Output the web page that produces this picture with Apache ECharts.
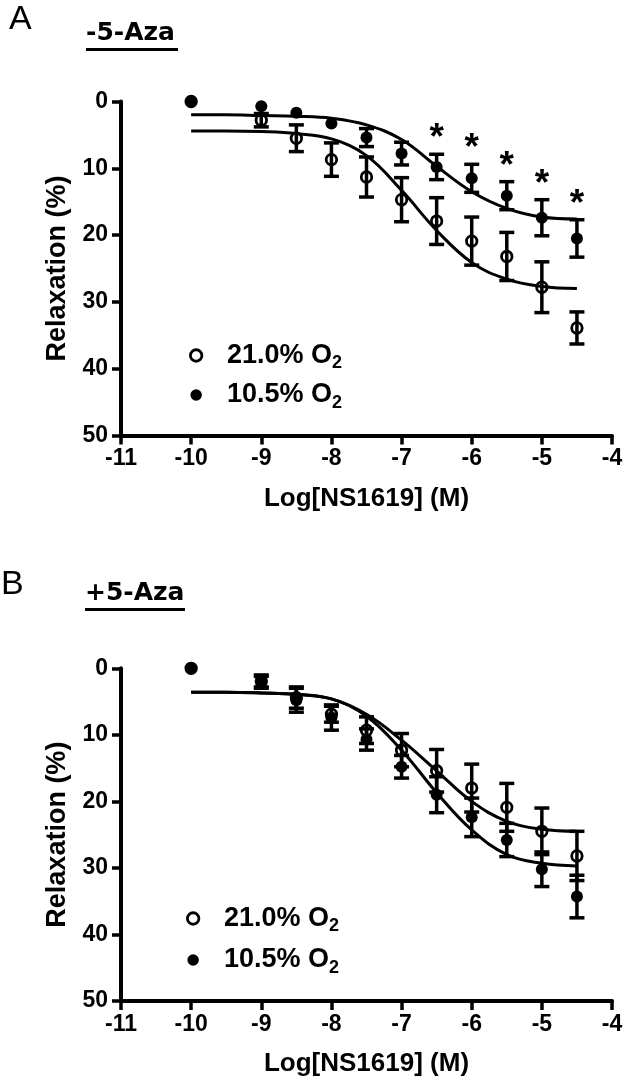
<!DOCTYPE html>
<html><head><meta charset="utf-8">
<script src="https://cdn.jsdelivr.net/npm/echarts@6/dist/echarts.min.js"></script>
<style>html,body{margin:0;padding:0;background:#fff}#c{width:630px;height:1082px}</style>
</head><body><div id="c"></div>
<script>
// ---- data ----
const logConc = [-10, -9, -8.5, -8, -7.5, -7, -6.5, -6, -5.5, -5, -4.5];
const xTicks = [-11, -10, -9, -8, -7, -6, -5, -4];
const yTicks = [0, 10, 20, 30, 40, 50];
const seriesNames = ['21.0% O2', '10.5% O2'];

// Panel A (-5-Aza)
const aOpenMean   = [0, 2.8, 5.5, 8.7, 11.3, 14.7, 17.9, 20.9, 23.2, 27.8, 33.9];
const aOpenErr    = [0, 1.0, 2.0, 2.5, 3.0, 3.3, 3.5, 3.6, 3.6, 3.8, 2.4];
const aFilledMean = [0, 0.7, 1.7, 3.3, 5.4, 7.8, 9.8, 11.5, 14.1, 17.4, 20.5];
const aFilledErr  = [0, 0, 0, 0, 1.35, 1.7, 1.9, 2.1, 2.1, 2.7, 2.8];
const aStarX      = [-6.5, -6, -5.5, -5, -4.5];

// Panel B (+5-Aza)
const bOpenMean   = [0, 1.9, 4.4, 6.9, 9.3, 12.3, 15.4, 18.0, 20.9, 24.5, 28.2];
const bOpenErr    = [0, 0.9, 1.6, 1.2, 2.0, 2.5, 3.2, 3.6, 3.6, 3.5, 3.7];
const bFilledMean = [0, 2.1, 4.8, 7.4, 10.7, 14.8, 19.0, 22.4, 25.8, 30.2, 34.3];
const bFilledErr  = [0, 0.9, 1.8, 1.9, 1.6, 1.7, 2.7, 2.9, 2.5, 2.6, 3.2];

// fitted curves
const curveX       = [-10, -9.5, -9, -8.5, -8, -7.5, -7, -6.5, -6, -5.5, -5, -4.5];
const aCurveOpen   = [4.4, 4.4, 4.5, 4.8, 5.6, 8.1, 13.3, 19.3, 24.1, 26.6, 27.7, 28.0];
const aCurveFilled = [2.0, 2.0, 2.1, 2.2, 2.5, 3.5, 5.7, 9.7, 13.5, 16.0, 17.3, 17.6];
const bCurveOpen   = [3.6, 3.6, 3.7, 3.9, 4.6, 6.9, 10.8, 15.4, 20.0, 23.0, 24.2, 24.5];
const bCurveFilled = [3.6, 3.6, 3.7, 3.9, 4.6, 7.2, 12.3, 18.7, 24.3, 28.0, 29.3, 29.7];

// ---- styling ----
const FONT = '"Liberation Sans", Arial, Helvetica, sans-serif';
const LW = 3.5;
const openStyle = {color: 'rgba(255,255,255,0)', borderColor: '#000', borderWidth: 2.8, opacity: 1};
const filledStyle = {color: '#000', borderWidth: 0, opacity: 1};

function zip(xs, ys) { return xs.map((x, i) => [x, ys[i]]); }

function scatter(name, idx, mean, open) {
  return {
    name, type: 'scatter', xAxisIndex: idx, yAxisIndex: idx,
    data: zip(logConc, mean), symbol: 'circle',
    symbolSize: open ? 10.5 : 12,
    itemStyle: open ? openStyle : filledStyle,
    z: open ? 3 : 4, silent: true
  };
}
function curve(idx, ys) {
  return {
    type: 'line', xAxisIndex: idx, yAxisIndex: idx, data: zip(curveX, ys),
    smooth: 0.4, showSymbol: false, symbol: 'none',
    lineStyle: {color: '#000', width: 3, opacity: 1}, z: 2, silent: true
  };
}
function errBars(idx, mean, err) {
  return {
    type: 'custom', xAxisIndex: idx, yAxisIndex: idx, silent: true, z: 5,
    data: logConc.map((x, i) => [x, mean[i], err[i]]),
    encode: {x: 0, y: 1},
    renderItem: (params, api) => {
      const x = api.value(0), m = api.value(1), e = api.value(2);
      if (!e) return {type: 'group', children: []};
      const t = api.coord([x, m - e]), b = api.coord([x, m + e]);
      const hw = 7.5, st = {stroke: '#000', lineWidth: LW};
      return {type: 'group', children: [
        {type: 'line', shape: {x1: t[0], y1: t[1], x2: b[0], y2: b[1]}, style: st},
        {type: 'line', shape: {x1: t[0] - hw, y1: t[1], x2: t[0] + hw, y2: t[1]}, style: st},
        {type: 'line', shape: {x1: b[0] - hw, y1: b[1], x2: b[0] + hw, y2: b[1]}, style: st}
      ]};
    }
  };
}
function stars(idx) {
  const data = aStarX.map(x => {
    const i = logConc.indexOf(x);
    return [x, aFilledMean[i] - aFilledErr[i]];
  });
  return {
    type: 'scatter', xAxisIndex: idx, yAxisIndex: idx, data, symbolSize: 1,
    itemStyle: {color: 'rgba(0,0,0,0)', opacity: 1}, silent: true, z: 6,
    label: {show: true, formatter: '*', position: 'inside', offset: [0, -15],
      fontFamily: FONT, fontWeight: 'bold', fontSize: 37, color: '#000', opacity: 1}
  };
}

function xAxis(idx) {
  return {
    type: 'value', gridIndex: idx, min: xTicks[0], max: xTicks[xTicks.length - 1], interval: 1,
    position: 'bottom',
    axisLine: {onZero: false, lineStyle: {color: '#000', width: 4}},
    axisTick: {length: 9, lineStyle: {color: '#000', width: LW}},
    axisLabel: {color: '#000', fontFamily: FONT, fontWeight: 'bold', fontSize: 23, margin: 12,
      showMinLabel: true, showMaxLabel: true},
    splitLine: {show: false},
    name: 'Log[NS1619] (M)', nameLocation: 'middle', nameGap: 50,
    nameTextStyle: {color: '#000', fontFamily: FONT, fontWeight: 'bold', fontSize: 26}
  };
}
function yAxis(idx) {
  return {
    type: 'value', gridIndex: idx, min: yTicks[0], max: yTicks[yTicks.length - 1], interval: 10,
    inverse: true, position: 'left',
    axisLine: {onZero: false, lineStyle: {color: '#000', width: 4}},
    axisTick: {length: 9, lineStyle: {color: '#000', width: LW}},
    axisLabel: {color: '#000', fontFamily: FONT, fontWeight: 'bold', fontSize: 23, margin: 13,
      showMinLabel: true, showMaxLabel: true},
    splitLine: {show: false},
    name: 'Relaxation (%)', nameLocation: 'middle', nameGap: 50, nameRotate: 90,
    nameTextStyle: {color: '#000', fontFamily: FONT, fontWeight: 'bold', fontSize: 27}
  };
}
function legend(left, top, gap) {
  return {
    orient: 'vertical', left, top, itemWidth: 11.5, itemHeight: 11.5, itemGap: gap,
    selectedMode: false,
    data: [
      {name: seriesNames[0], icon: 'circle', itemStyle: {color: '#fff', borderColor: '#000', borderWidth: 2.8, opacity: 1}},
      {name: seriesNames[1], icon: 'circle', itemStyle: {color: '#000', borderWidth: 0, opacity: 1}}
    ],
    formatter: n => '{g|}{m|' + n.slice(0, -1) + '}{s|' + n.slice(-1) + '}',
    textStyle: {
      color: '#000',
      rich: {
        g: {width: 20, lineHeight: 34},
        m: {fontFamily: FONT, fontWeight: 'bold', fontSize: 27, lineHeight: 34, color: '#000'},
        s: {fontFamily: FONT, fontWeight: 'bold', fontSize: 18, lineHeight: 18, verticalAlign: 'bottom', color: '#000'}
      }
    }
  };
}

const chart = echarts.init(document.getElementById('c'), null, {renderer: 'canvas'});
chart.setOption({
  animation: false,
  backgroundColor: '#fff',
  grid: [
    {left: 121, top: 101.5, width: 491, height: 334},
    {left: 121, top: 668.3, width: 491, height: 332.7}
  ],
  xAxis: [xAxis(0), xAxis(1)],
  yAxis: [yAxis(0), yAxis(1)],
  legend: [legend(184, 337, 9), legend(181, 900, 11)],
  graphic: [
    {type: 'text', left: 9, top: 3, style: {text: 'A', fontFamily: FONT, fontSize: 34, fill: '#000'}},
    {type: 'text', left: 86, top: 21, style: {text: '-5-Aza', fontFamily: '"DejaVu Sans"', fontWeight: 'bold', fontSize: 25, fill: '#000'}},
    {type: 'rect', shape: {x: 86, y: 48, width: 92, height: 3}, style: {fill: '#000'}},
    {type: 'text', left: 1, top: 568, style: {text: 'B', fontFamily: FONT, fontSize: 34, fill: '#000'}},
    {type: 'text', left: 85, top: 581, style: {text: '+5-Aza', fontFamily: '"DejaVu Sans"', fontWeight: 'bold', fontSize: 25, fill: '#000'}},
    {type: 'rect', shape: {x: 85, y: 608, width: 100, height: 3}, style: {fill: '#000'}}
  ],
  series: [
    curve(0, aCurveOpen), curve(0, aCurveFilled),
    scatter(seriesNames[0], 0, aOpenMean, true),
    scatter(seriesNames[1], 0, aFilledMean, false),
    errBars(0, aOpenMean, aOpenErr), errBars(0, aFilledMean, aFilledErr),
    stars(0),
    curve(1, bCurveOpen), curve(1, bCurveFilled),
    scatter(seriesNames[0], 1, bOpenMean, true),
    scatter(seriesNames[1], 1, bFilledMean, false),
    errBars(1, bOpenMean, bOpenErr), errBars(1, bFilledMean, bFilledErr)
  ]
});
</script></body></html>
